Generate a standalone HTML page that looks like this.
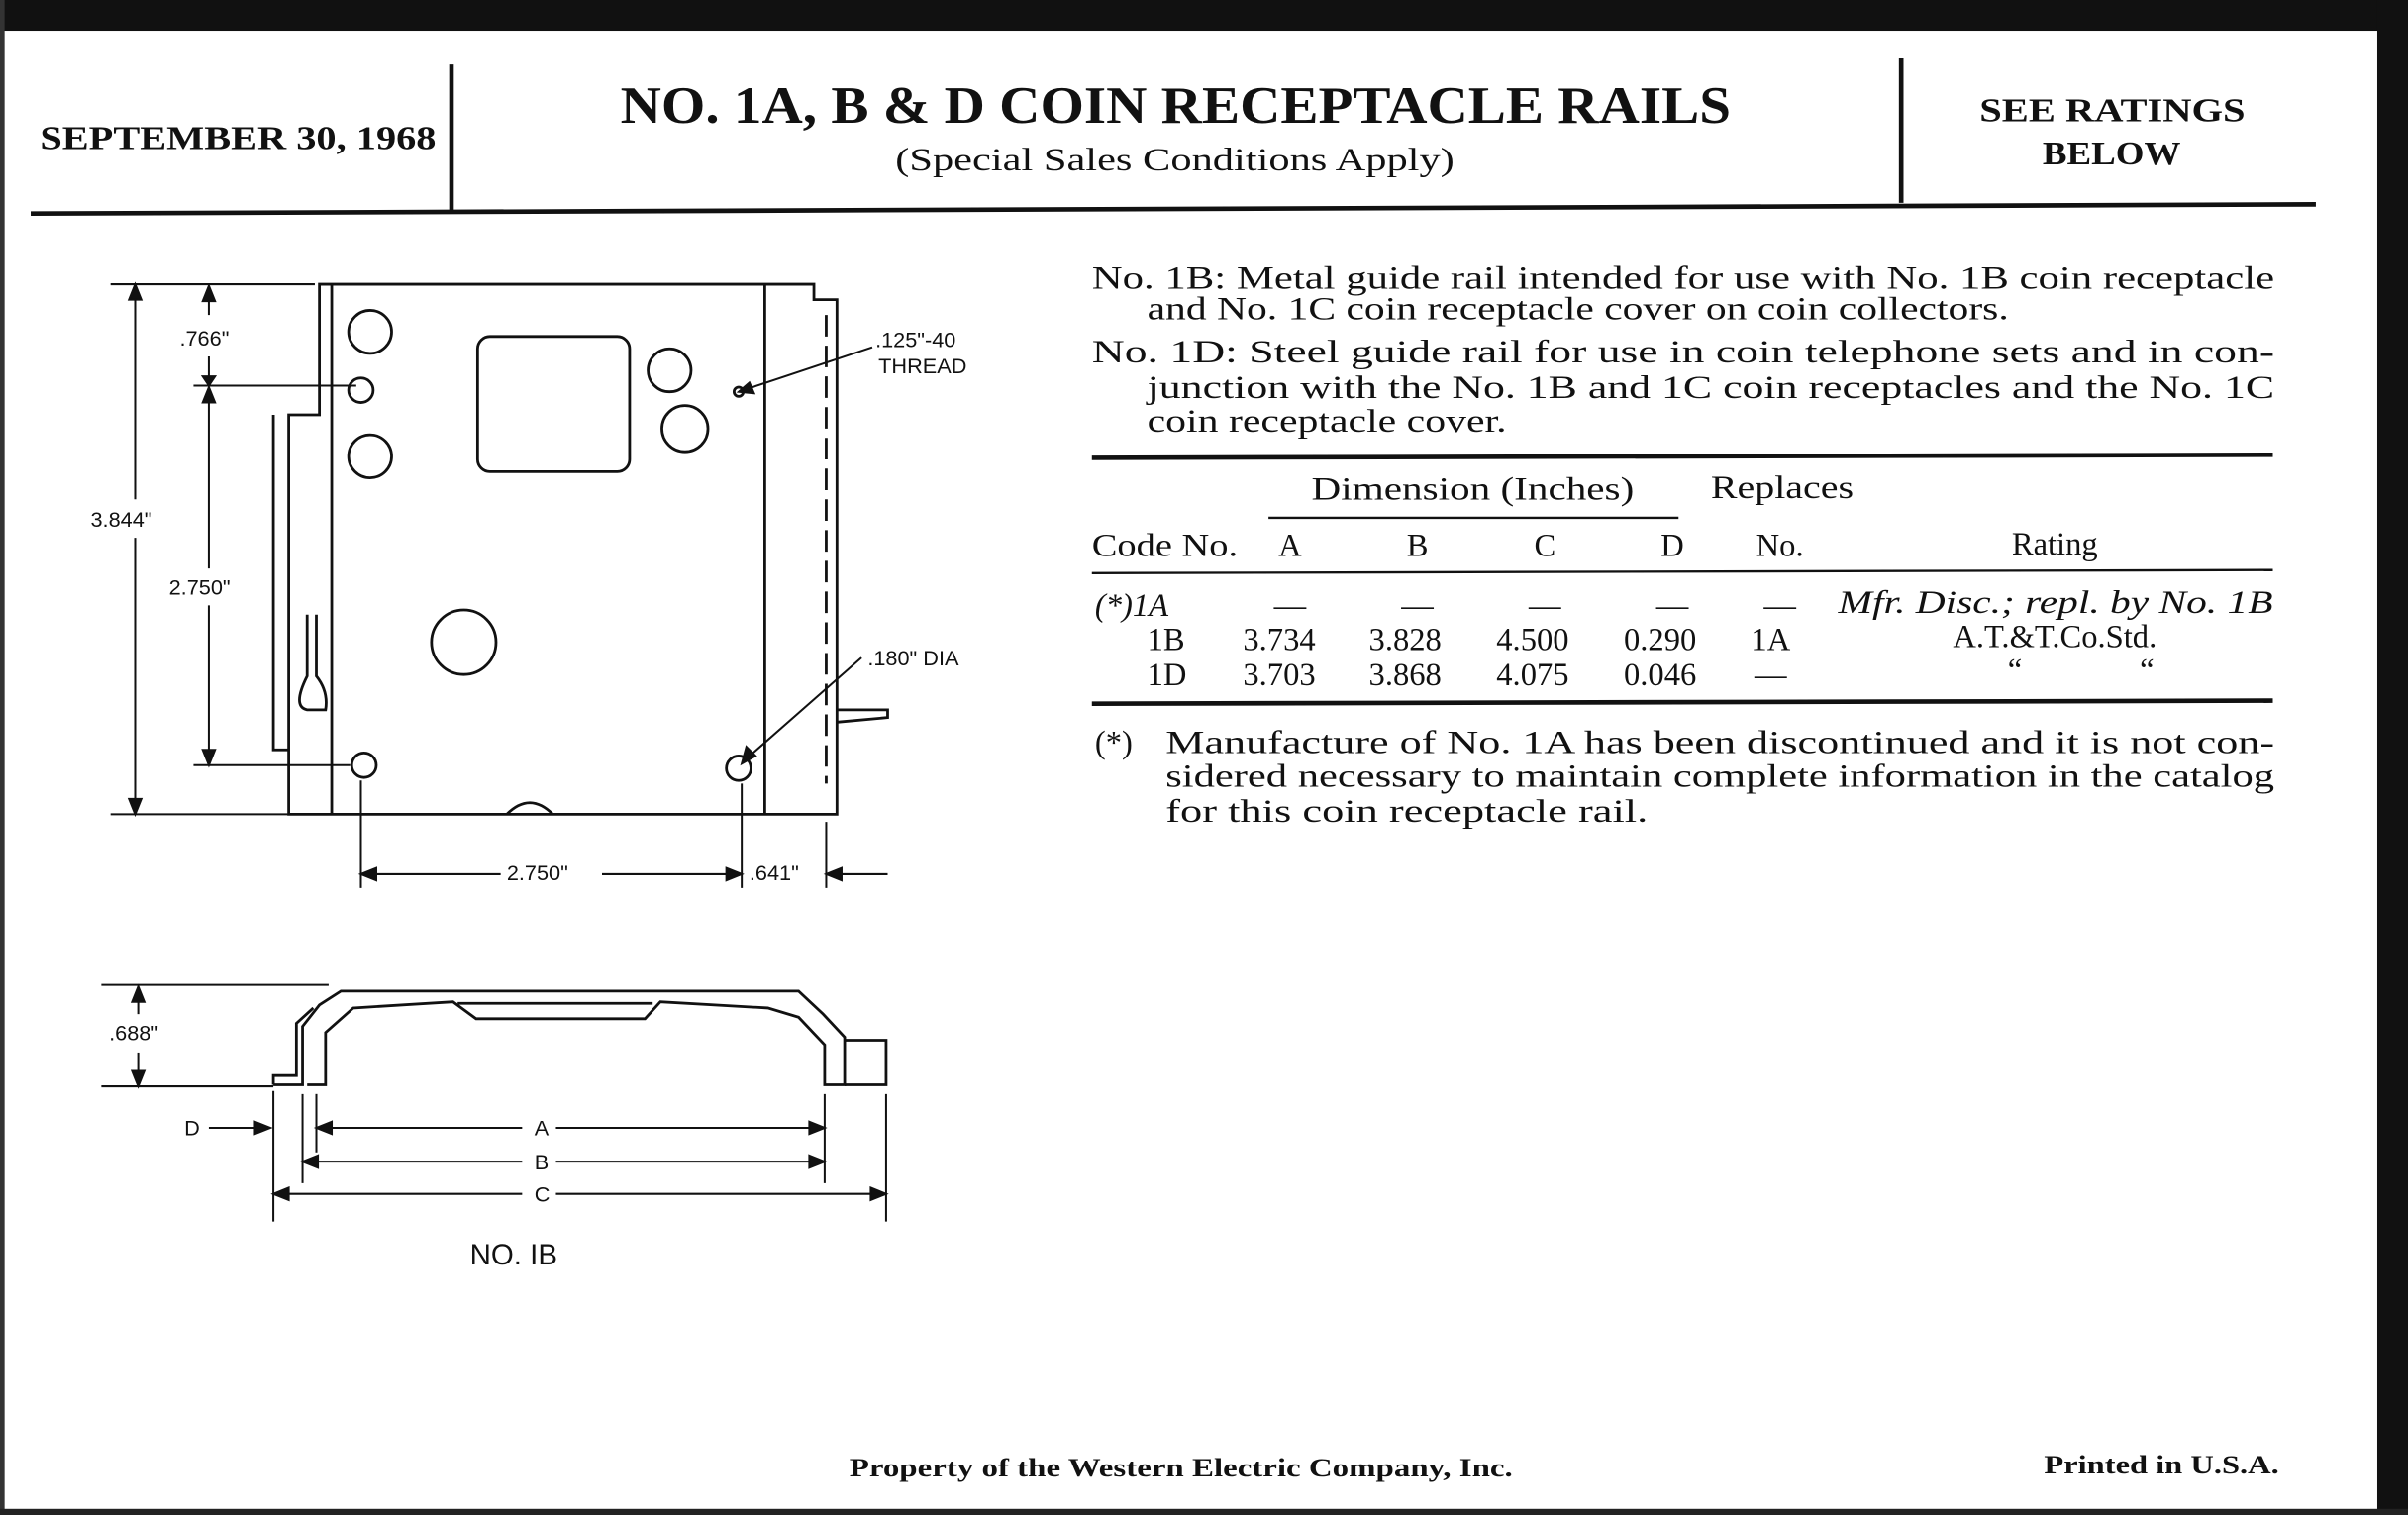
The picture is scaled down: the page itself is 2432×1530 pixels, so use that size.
<!DOCTYPE html>
<html><head><meta charset="utf-8"><style>
html,body{margin:0;padding:0;background:#fff}
svg{display:block}
</style></head><body>
<svg width="2432" height="1530" viewBox="0 0 1568 986" preserveAspectRatio="none" xmlns="http://www.w3.org/2000/svg">
<rect x="0" y="0" width="1568" height="986" fill="#fff"/>
<rect x="0" y="0" width="1568" height="20" fill="#111"/>
<rect x="1548" y="0" width="20" height="986" fill="#111"/>
<rect x="0" y="0" width="3" height="986" fill="#333"/>
<rect x="0" y="982" width="1568" height="4" fill="#222"/>
<g font-family="Liberation Serif, serif" fill="#111" lengthAdjust="spacingAndGlyphs">
<text x="26" y="97" font-size="22" font-weight="bold" textLength="258" lengthAdjust="spacingAndGlyphs">SEPTEMBER 30, 1968</text>
<text x="404" y="80" font-size="34" font-weight="bold" textLength="723" lengthAdjust="spacingAndGlyphs">NO. 1A, B &amp; D COIN RECEPTACLE RAILS</text>
<text x="583" y="111" font-size="21" textLength="364" lengthAdjust="spacingAndGlyphs">(Special Sales Conditions Apply)</text>
<text x="1289" y="79" font-size="22" font-weight="bold" textLength="173" lengthAdjust="spacingAndGlyphs">SEE RATINGS</text>
<text x="1330" y="107" font-size="22" font-weight="bold" textLength="90" lengthAdjust="spacingAndGlyphs">BELOW</text>
</g>
<line x1="294" y1="42" x2="294" y2="137" stroke="#111" stroke-width="3"/>
<line x1="1238" y1="38" x2="1238" y2="132" stroke="#111" stroke-width="3"/>
<line x1="20" y1="139" x2="1508" y2="133" stroke="#111" stroke-width="3"/>

<g font-family="Liberation Serif, serif" fill="#111" font-size="21">
<text x="711" y="188" textLength="770" lengthAdjust="spacingAndGlyphs">No. 1B:  Metal guide rail intended for use with No. 1B coin receptacle</text>
<text x="747" y="208" textLength="561" lengthAdjust="spacingAndGlyphs">and No. 1C coin receptacle cover on coin collectors.</text>
<text x="711" y="236" textLength="770" lengthAdjust="spacingAndGlyphs">No. 1D:  Steel guide rail for use in coin telephone sets and in con-</text>
<text x="747" y="259" textLength="734" lengthAdjust="spacingAndGlyphs">junction with the No. 1B and 1C coin receptacles and the No. 1C</text>
<text x="747" y="281" textLength="234" lengthAdjust="spacingAndGlyphs">coin receptacle cover.</text>
<text x="854" y="325" textLength="210" lengthAdjust="spacingAndGlyphs">Dimension (Inches)</text>
<text x="1114" y="324" textLength="93" lengthAdjust="spacingAndGlyphs">Replaces</text>
<text x="711" y="362" textLength="95" lengthAdjust="spacingAndGlyphs">Code No.</text>
<text x="840" y="362" text-anchor="middle">A</text>
<text x="923" y="362" text-anchor="middle">B</text>
<text x="1006" y="362" text-anchor="middle">C</text>
<text x="1089" y="362" text-anchor="middle">D</text>
<text x="1159" y="362" text-anchor="middle">No.</text>
<text x="1338" y="361" text-anchor="middle">Rating</text>
<text x="713" y="401" font-style="italic">(*)1A</text>
<text x="840" y="401" text-anchor="middle">—</text>
<text x="923" y="401" text-anchor="middle">—</text>
<text x="1006" y="401" text-anchor="middle">—</text>
<text x="1089" y="401" text-anchor="middle">—</text>
<text x="1159" y="401" text-anchor="middle">—</text>
<text x="1197" y="399" font-style="italic" textLength="283" lengthAdjust="spacingAndGlyphs">Mfr. Disc.; repl. by No. 1B</text>
<text x="747" y="423">1B</text><text x="833" y="423" text-anchor="middle">3.734</text><text x="915" y="423" text-anchor="middle">3.828</text><text x="998" y="423" text-anchor="middle">4.500</text><text x="1081" y="423" text-anchor="middle">0.290</text><text x="1153" y="423" text-anchor="middle">1A</text>
<text x="1338" y="421" text-anchor="middle">A.T.&amp;T.Co.Std.</text>
<text x="747" y="446">1D</text><text x="833" y="446" text-anchor="middle">3.703</text><text x="915" y="446" text-anchor="middle">3.868</text><text x="998" y="446" text-anchor="middle">4.075</text><text x="1081" y="446" text-anchor="middle">0.046</text><text x="1153" y="446" text-anchor="middle">—</text>
<text x="1312" y="443" text-anchor="middle">“</text><text x="1398" y="443" text-anchor="middle">“</text>
<text x="713" y="490">(*)</text>
<text x="759" y="490" textLength="722" lengthAdjust="spacingAndGlyphs">Manufacture of No. 1A has been discontinued and it is not con-</text>
<text x="759" y="512" textLength="722" lengthAdjust="spacingAndGlyphs">sidered necessary to maintain complete information in the catalog</text>
<text x="759" y="535" textLength="314" lengthAdjust="spacingAndGlyphs">for this coin receptacle rail.</text>
<text x="553" y="961" font-size="17" font-weight="bold" textLength="432" lengthAdjust="spacingAndGlyphs">Property of the Western Electric Company, Inc.</text>
<text x="1331" y="959" font-size="17" font-weight="bold" textLength="153" lengthAdjust="spacingAndGlyphs">Printed in U.S.A.</text>
</g>
<g stroke="#111" fill="none">
<line x1="711" y1="298" x2="1480" y2="296" stroke-width="3"/>
<line x1="826" y1="337" x2="1093" y2="337" stroke-width="1.5"/>
<line x1="711" y1="373" x2="1480" y2="371" stroke-width="1.5"/>
<line x1="711" y1="458" x2="1480" y2="456" stroke-width="3"/>
</g>

<!-- drawing 1 -->
<g stroke="#111" fill="none" stroke-width="1.8">
<path d="M208,185 L530,185 L530,195 L545,195 L545,530 L188,530 L188,270 L208,270 Z"/>
<line x1="216" y1="185" x2="216" y2="530"/>
<line x1="498" y1="185" x2="498" y2="530"/>
<line x1="538" y1="205" x2="538" y2="510" stroke-dasharray="14,6"/>
<path d="M178,270 L178,488 L188,488"/>
<path d="M200,400 L200,440 Q190,460 200,462 L212,462 Q214,450 206,440 L206,400"/>
<path d="M330,530 Q345,515 360,530"/>
<path d="M545,462 L578,462 L578,467 L545,470"/>
<rect x="311" y="219" width="99" height="88" rx="8"/>
<circle cx="241" cy="216" r="14"/><circle cx="235" cy="254" r="8"/><circle cx="241" cy="297" r="14"/>
<circle cx="436" cy="241" r="14"/><circle cx="446" cy="279" r="15"/>
<circle cx="302" cy="418" r="21"/>
<circle cx="237" cy="498" r="8"/><circle cx="481" cy="500" r="8"/>
<circle cx="481" cy="255" r="3"/>
</g>
<g stroke="#111" stroke-width="1.3" fill="#111">
<line x1="72" y1="185" x2="205" y2="185"/>
<line x1="72" y1="530" x2="188" y2="530"/>
<line x1="88" y1="190" x2="88" y2="325"/><line x1="88" y1="350" x2="88" y2="525"/>
<path d="M84,195 L88,185 L92,195 Z"/><path d="M84,520 L88,530 L92,520 Z"/>
<line x1="126" y1="251" x2="232" y2="251"/>
<line x1="126" y1="498" x2="228" y2="498"/>
<line x1="136" y1="190" x2="136" y2="205"/><line x1="136" y1="232" x2="136" y2="246"/>
<path d="M132,196 L136,186 L140,196 Z"/><path d="M132,245 L136,251 L140,245 Z"/>
<line x1="136" y1="256" x2="136" y2="370"/><line x1="136" y1="394" x2="136" y2="493"/>
<path d="M132,262 L136,252 L140,262 Z"/><path d="M132,488 L136,498 L140,488 Z"/>
<line x1="235" y1="508" x2="235" y2="578"/><line x1="483" y1="510" x2="483" y2="578"/><line x1="538" y1="535" x2="538" y2="578"/>
<line x1="240" y1="569" x2="326" y2="569"/><line x1="392" y1="569" x2="478" y2="569"/>
<path d="M245,565 L235,569 L245,573 Z"/><path d="M473,565 L483,569 L473,573 Z"/>
<line x1="540" y1="569" x2="578" y2="569"/><path d="M548,565 L538,569 L548,573 Z"/>
<line x1="568" y1="226" x2="484" y2="254"/><path d="M488,249 L481,255 L491,256 Z"/>
<line x1="561" y1="428" x2="487" y2="493"/><path d="M486,486 L483,497 L492,492 Z"/>
</g>
<g font-family="Liberation Sans, sans-serif" fill="#111" font-size="14">
<text x="117" y="225">.766"</text>
<text x="59" y="343">3.844"</text>
<text x="110" y="387">2.750"</text>
<text x="570" y="226">.125"-40</text><text x="572" y="243">THREAD</text>
<text x="565" y="433">.180" DIA</text>
<text x="330" y="573">2.750"</text>
<text x="488" y="573">.641"</text>
<text x="71" y="677">.688"</text>
<text x="120" y="739">D</text>
<text x="348" y="739">A</text>
<text x="348" y="761">B</text>
<text x="348" y="782">C</text>
<text x="306" y="823" font-size="19">NO. IB</text>
</g>
<!-- drawing 2 -->
<g stroke="#111" fill="none" stroke-width="1.8">
<path d="M178,706 L197,706 L197,668 L208,654 L222,645 L520,645 L536,660 L550,675 L550,706 L537,706 L537,680 L520,662 L500,656 L430,652 L420,663 L310,663 L295,652 L230,656 L212,672 L212,706 L200,706"/>
<path d="M178,706 L178,700 L193,700 L193,666 L204,656"/>
<path d="M550,677 L577,677 L577,706 L550,706"/>
<path d="M298,653 L425,653"/>
</g>
<g stroke="#111" stroke-width="1.3" fill="#111">
<line x1="66" y1="641" x2="214" y2="641"/>
<line x1="66" y1="707" x2="178" y2="707"/>
<line x1="90" y1="646" x2="90" y2="660"/><line x1="90" y1="685" x2="90" y2="702"/>
<path d="M86,652 L90,642 L94,652 Z"/><path d="M86,697 L90,707 L94,697 Z"/>
<line x1="178" y1="710" x2="178" y2="795"/><line x1="197" y1="712" x2="197" y2="770"/><line x1="206" y1="712" x2="206" y2="750"/>
<line x1="537" y1="712" x2="537" y2="770"/><line x1="577" y1="712" x2="577" y2="795"/>
<line x1="136" y1="734" x2="168" y2="734"/><path d="M166,730 L176,734 L166,738 Z"/>
<line x1="210" y1="734" x2="340" y2="734"/><line x1="362" y1="734" x2="533" y2="734"/>
<path d="M216,730 L206,734 L216,738 Z"/><path d="M527,730 L537,734 L527,738 Z"/>
<line x1="200" y1="756" x2="340" y2="756"/><line x1="362" y1="756" x2="533" y2="756"/>
<path d="M207,752 L197,756 L207,760 Z"/><path d="M527,752 L537,756 L527,760 Z"/>
<line x1="181" y1="777" x2="340" y2="777"/><line x1="362" y1="777" x2="574" y2="777"/>
<path d="M188,773 L178,777 L188,781 Z"/><path d="M567,773 L577,777 L567,781 Z"/>
</g>
</svg>
</body></html>
